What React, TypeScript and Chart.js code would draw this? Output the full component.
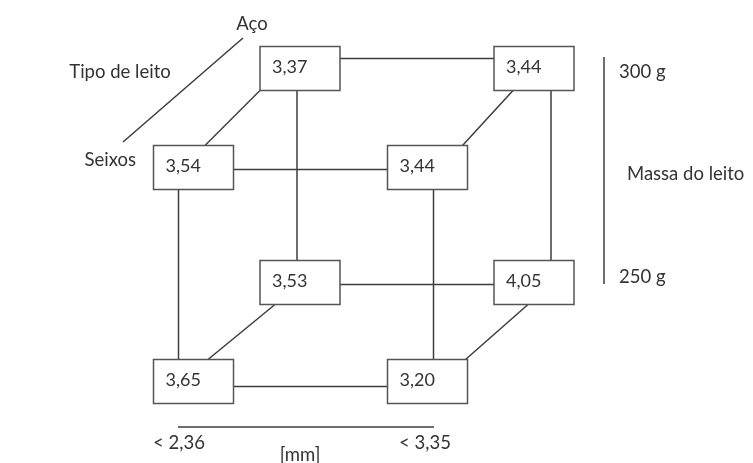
import React, { useEffect, useRef } from "react";
import { Chart, registerables } from "chart.js";

Chart.register(...registerables);

// ---- Data ----
const sizeLabels = ["< 2,36", "< 3,35"]; // particle size [mm]
const sizeUnit = "[mm]";
const bedTypes = ["Seixos", "Aço"]; // front, back
const bedTitle = "Tipo de leito";
const massLabels = ["250 g", "300 g"]; // bottom, top
const massTitle = "Massa do leito";

// values per bed type and mass, indexed by size
const valuesSeixos250 = [3.65, 3.2];
const valuesSeixos300 = [3.54, 3.44];
const valuesAco250 = [3.53, 4.05];
const valuesAco300 = [3.37, 3.44];

// ---- Layout (projection of the cube into scale units) ----
const X0 = 193.5, SIZE_STEP = 234, DEPTH_X = 106.5;
const Y0 = 381.5, MASS_STEP = 214, DEPTH_Y = 99;
const BOX_W = 80, BOX_H = 44;
const FONT = "Lato, 'Open Sans', sans-serif";
const INK = "#3c3c3c";
// hand-drawn edge offsets of the original sketch
const hOffset: Record<string, number> = { "0-1": 2, "1-1": -10, "0-0": 5, "1-0": 2 }; // key b-m
const vOffset: Record<string, number> = { "0-0": -15, "1-0": 6, "0-1": -3, "1-1": 17 }; // key s-b
const dOffset: Record<string, [number, number]> = {
  "0-1": [11.5, -40],
  "0-0": [14.5, -25],
  "1-1": [35, -21],
  "1-0": [38, -6],
}; // key s-m : [front dx, back dx]

function proj(s: number, b: number, m: number) {
  return { x: X0 + s * SIZE_STEP + b * DEPTH_X, y: Y0 - m * MASS_STEP - b * DEPTH_Y };
}

const table: { s: number; b: number; m: number; v: number }[] = [];
[valuesSeixos250, valuesSeixos300, valuesAco250, valuesAco300].forEach((arr, i) => {
  const b = i < 2 ? 0 : 1;
  const m = i % 2;
  arr.forEach((v, s) => table.push({ s, b, m, v }));
});

const fmt = (v: number) => v.toFixed(2).replace(".", ",");

const cubePlugin = {
  id: "cube",
  afterDatasetsDraw(chart: any) {
    const { ctx } = chart;
    const xs = chart.scales.x, ys = chart.scales.y;
    const px = (v: number) => xs.getPixelForValue(v);
    const py = (v: number) => ys.getPixelForValue(v);
    const line = (x1: number, y1: number, x2: number, y2: number) => {
      ctx.beginPath();
      ctx.moveTo(px(x1), py(y1));
      ctx.lineTo(px(x2), py(y2));
      ctx.stroke();
    };
    ctx.save();
    ctx.strokeStyle = INK;
    ctx.lineWidth = 1.5;
    // edges
    for (const a of table) {
      for (const c of table) {
        const diff = (a.s !== c.s ? 1 : 0) + (a.b !== c.b ? 1 : 0) + (a.m !== c.m ? 1 : 0);
        if (diff !== 1) continue;
        const pa = proj(a.s, a.b, a.m), pc = proj(c.s, c.b, c.m);
        if (a.s < c.s) {
          const o = hOffset[`${a.b}-${a.m}`];
          line(pa.x, pa.y + o, pc.x, pc.y + o);
        }
        if (a.m < c.m) {
          const o = vOffset[`${a.s}-${a.b}`];
          line(pa.x + o, pa.y, pc.x + o, pc.y);
        }
        if (a.b < c.b) {
          const [fo, bo] = dOffset[`${a.s}-${a.m}`];
          line(pa.x + fo, pa.y - BOX_H / 2, pc.x + bo, pc.y + BOX_H / 2);
        }
      }
    }
    // boxes
    ctx.font = `18px ${FONT}`;
    ctx.textBaseline = "middle";
    ctx.textAlign = "left";
    for (const a of table) {
      const p = proj(a.s, a.b, a.m);
      const l = px(p.x - BOX_W / 2), t = py(p.y - BOX_H / 2);
      const w = px(p.x + BOX_W / 2) - l, h = py(p.y + BOX_H / 2) - t;
      ctx.fillStyle = "#fff";
      ctx.fillRect(l, t, w, h);
      ctx.strokeStyle = "#555";
      ctx.strokeRect(l, t, w, h);
      ctx.fillStyle = "#333";
      ctx.fillText(fmt(a.v), px(p.x - BOX_W / 2 + 12), py(p.y - 1));
    }
    // axis: bed type (diagonal)
    ctx.strokeStyle = INK;
    line(123, 142, 243, 38);
    ctx.fillStyle = "#333";
    ctx.font = `18.5px ${FONT}`;
    ctx.textAlign = "right";
    ctx.fillText(bedTypes[0], px(136), py(160));
    ctx.textAlign = "center";
    ctx.fillText(bedTypes[1], px(252), py(24));
    ctx.fillText(bedTitle, px(120), py(72));
    // axis: mass (vertical)
    line(604, 57, 604, 284);
    ctx.textAlign = "left";
    ctx.fillText(massLabels[1], px(619), py(72));
    ctx.fillText(massLabels[0], px(619), py(277));
    ctx.fillText(massTitle, px(627), py(174));
    // axis: size (horizontal)
    line(178, 427, 434, 427);
    ctx.fillText(sizeLabels[0], px(153), py(443));
    ctx.fillText(sizeLabels[1], px(399), py(443));
    ctx.textAlign = "center";
    ctx.fillText(sizeUnit, px(300), py(455));
    ctx.restore();
  },
};

export default function App() {
  const ref = useRef<HTMLCanvasElement>(null);
  useEffect(() => {
    if (!ref.current) return;
    const chart = new Chart(ref.current, {
      type: "scatter",
      data: {
        datasets: [
          {
            label: "cube",
            data: table.map((d) => proj(d.s, d.b, d.m)),
            pointRadius: 0,
          },
        ],
      },
      options: {
        responsive: false,
        animation: false,
        layout: { padding: 0 },
        plugins: { legend: { display: false }, tooltip: { enabled: false } },
        scales: {
          x: { type: "linear", min: 0, max: 753, display: false },
          y: { type: "linear", min: 0, max: 463, reverse: true, display: false },
        },
      },
      plugins: [cubePlugin],
    });
    return () => chart.destroy();
  }, []);
  return (
    <canvas
      ref={ref}
      width={753}
      height={463}
      style={{ position: "fixed", left: 0, top: 0, display: "block", background: "#fff" }}
    />
  );
}
